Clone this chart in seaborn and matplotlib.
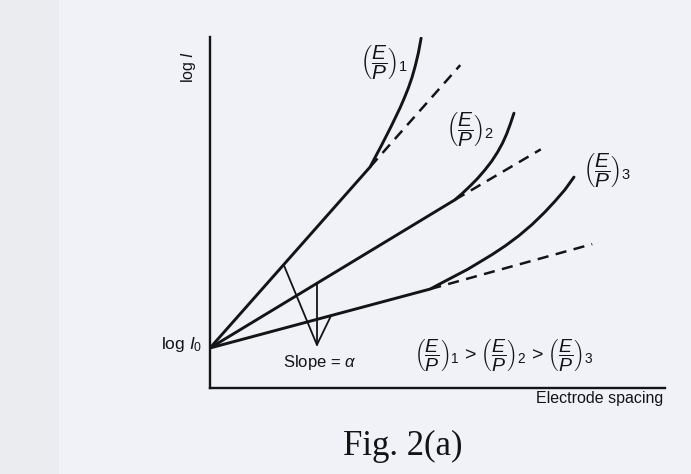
import matplotlib
matplotlib.use("Agg")
import matplotlib.pyplot as plt
import seaborn as sns

# Townsend first-coefficient curves: log I against electrode spacing
log_i0 = 1.14

# Curve for (E/P)_1 : straight part, then upward departure
curve1_x = [0.0, 3.52, 3.64, 3.76, 3.87, 3.98, 4.08, 4.18, 4.27, 4.36, 4.44, 4.51, 4.58, 4.64]
curve1_y = [log_i0, 6.30, 6.60, 6.89, 7.17, 7.45, 7.72, 7.99, 8.26, 8.55, 8.85, 9.17, 9.55, 9.97]
dash1_x = [3.52, 5.50]
dash1_y = [6.30, 9.20]

# Curve for (E/P)_2
curve2_x = [0.0, 5.38, 5.55, 5.72, 5.88, 6.04, 6.19, 6.32, 6.43, 6.52, 6.60, 6.68]
curve2_y = [log_i0, 5.36, 5.55, 5.76, 5.97, 6.21, 6.46, 6.72, 6.98, 7.24, 7.52, 7.83]
dash2_x = [5.38, 7.27]
dash2_y = [5.36, 6.80]

# Curve for (E/P)_3
curve3_x = [0.0, 4.84, 5.10, 5.38, 5.66, 5.93, 6.21, 6.50, 6.79, 7.08, 7.35, 7.58, 7.80, 8.00]
curve3_y = [log_i0, 2.82, 3.00, 3.19, 3.38, 3.59, 3.81, 4.06, 4.34, 4.66, 5.00, 5.32, 5.65, 6.01]
dash3_x = [4.84, 8.40]
dash3_y = [2.82, 4.10]

# Slope construction between the three straight lines
slope_x = [1.62, 2.35, 2.66]
slope_y = [3.51, 1.23, 2.06]
slope_vert_x = [2.35, 2.35]
slope_vert_y = [1.23, 2.98]

sns.set_theme(style="white")
plt.rcParams["font.family"] = ["Liberation Sans", "DejaVu Sans"]
plt.rcParams["mathtext.fontset"] = "custom"
plt.rcParams["mathtext.rm"] = "Liberation Sans"
plt.rcParams["mathtext.it"] = "Liberation Sans:italic"
plt.rcParams["mathtext.bf"] = "Liberation Sans:bold"

bg = "#f0f2f8"
ink = "#141414"

fig = plt.figure(figsize=(6.91, 4.74), dpi=100, facecolor=bg)
# slightly greyer strip down the left margin of the page
fig.patches.append(plt.Rectangle((0, 0), 0.085, 1, transform=fig.transFigure,
                                 facecolor="#ebecef", edgecolor="none", zorder=0))
ax = fig.add_axes([0.3039, 0.1814, 0.6585, 0.7405])
ax.set_facecolor("none")

lw = 2.1
for xs, ys in [(curve1_x, curve1_y), (curve2_x, curve2_y), (curve3_x, curve3_y)]:
    sns.lineplot(x=xs, y=ys, ax=ax, color=ink, linewidth=lw, sort=False,
                 estimator=None, solid_capstyle="round", solid_joinstyle="round")
for xs, ys in [(dash1_x, dash1_y), (dash2_x, dash2_y), (dash3_x, dash3_y)]:
    sns.lineplot(x=xs, y=ys, ax=ax, color=ink, linewidth=lw * 0.85, sort=False,
                 estimator=None, linestyle=(0, (4.5, 3.0)))
sns.lineplot(x=slope_x, y=slope_y, ax=ax, color=ink, linewidth=1.3, sort=False,
             estimator=None)
sns.lineplot(x=slope_vert_x, y=slope_vert_y, ax=ax, color=ink, linewidth=1.3,
             sort=False, estimator=None)

ax.set_xlim(0, 10)
ax.set_ylim(0, 10)
ax.set_xticks([])
ax.set_yticks([])
for side in ["top", "right"]:
    ax.spines[side].set_visible(False)
for side in ["left", "bottom"]:
    ax.spines[side].set_color(ink)
    ax.spines[side].set_linewidth(1.7)

ep = r"$\left(\dfrac{E}{P}\right)_{\rm %s}$"
txt = dict(color=ink, clip_on=False)
ax.text(-0.48, 9.15, r"log $I$", rotation=90, ha="center", va="center",
        fontsize=11.5, **txt)
ax.text(-0.16, 1.25, r"log $I_{\rm 0}$", ha="right", va="center",
        fontsize=12.5, **txt)
ax.text(2.42, 0.74, r"Slope = $\alpha$", ha="center", va="center",
        fontsize=12, **txt)
ax.text(3.82, 9.27, ep % "1", ha="center", va="center", fontsize=15, **txt)
ax.text(5.72, 7.36, ep % "2", ha="center", va="center", fontsize=15, **txt)
ax.text(8.72, 6.19, ep % "3", ha="center", va="center", fontsize=15, **txt)
ax.text(6.46, 0.90, (ep % "1") + " > " + (ep % "2") + " > " + (ep % "3"),
        ha="center", va="center", fontsize=14, **txt)
ax.text(9.96, -0.31, "Electrode spacing", ha="right", va="center",
        fontsize=11.5, **txt)

fig.text(0.583, 0.040, "Fig. 2(a)", ha="center", va="baseline",
         fontsize=25, color=ink, family=["Liberation Serif", "DejaVu Serif"])

fig.savefig("out.png", dpi=100, facecolor=bg)
